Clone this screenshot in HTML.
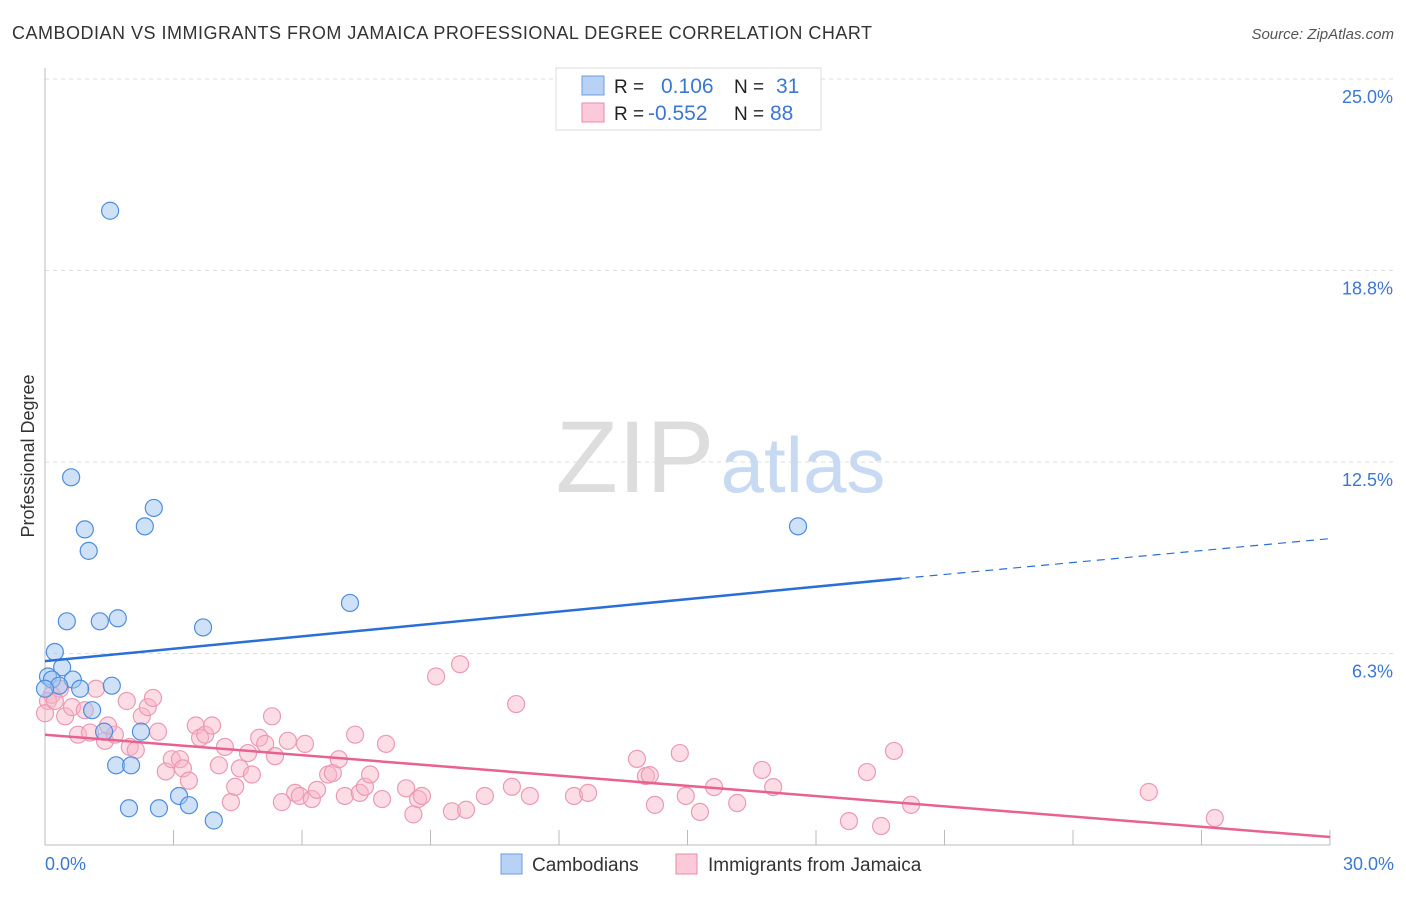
<!DOCTYPE html>
<html><head><meta charset="utf-8"><style>
body{margin:0;background:#fff;font-family:"Liberation Sans",sans-serif;}
svg text{font-family:"Liberation Sans",sans-serif;}
</style></head><body>
<svg id="chart" width="1406" height="892" xmlns="http://www.w3.org/2000/svg">
<text x="12" y="39" font-size="18" fill="#333" textLength="860">CAMBODIAN VS IMMIGRANTS FROM JAMAICA PROFESSIONAL DEGREE CORRELATION CHART</text>
<text x="1394" y="39" font-size="15" fill="#555" text-anchor="end" font-style="italic">Source: ZipAtlas.com</text>
<g id="grid"></g>
<text x="635" y="492" font-size="102" fill="#ddd" font-family="Liberation Serif" text-anchor="middle">ZIP</text>
<text x="803" y="492" font-size="78" fill="#c8daf2" text-anchor="middle">atlas</text>
<line x1="45" y1="68" x2="45" y2="845" stroke="#bbb"/>
<line x1="45" y1="845" x2="1330" y2="845" stroke="#bbb"/>
<text x="34" y="456" font-size="18" fill="#333" text-anchor="middle" transform="rotate(-90 34 456)">Professional Degree</text>
<text x="45" y="870" font-size="18" fill="#3a78d4">0.0%</text>
<text x="1394" y="870" font-size="18" fill="#3a78d4" text-anchor="end">30.0%</text>
<g id="points"></g>
<g id="lines"></g>
<g>
<rect x="556" y="68" width="265" height="62" fill="#fff" stroke="#ddd"/>
<rect x="582" y="76" width="22" height="19" fill="#b8d2f5" stroke="#6c9de0"/>
<rect x="582" y="103" width="22" height="19" fill="#fbc9d8" stroke="#e88aa8"/>
<text x="614" y="93" font-size="19" fill="#222">R =</text>
<text x="661" y="93" font-size="21" fill="#3a78d4">0.106</text>
<text x="734" y="93" font-size="19" fill="#222">N =</text>
<text x="776" y="93" font-size="21" fill="#3a78d4">31</text>
<text x="614" y="120" font-size="19" fill="#222">R =</text>
<text x="648" y="120" font-size="21" fill="#3a78d4">-0.552</text>
<text x="734" y="120" font-size="19" fill="#222">N =</text>
<text x="770" y="120" font-size="21" fill="#3a78d4">88</text>
</g>
<g>
<rect x="501" y="854" width="21" height="20" fill="#b8d2f5" stroke="#6c9de0"/>
<text x="532" y="871" font-size="19" fill="#333">Cambodians</text>
<rect x="676" y="854" width="21" height="20" fill="#fbc9d8" stroke="#e88aa8"/>
<text x="708" y="871" font-size="19" fill="#333">Immigrants from Jamaica</text>
</g>
</svg>
<script>
const yTicks=[25,18.75,12.5,6.25];
const yTickLabels=["25.0%","18.8%","12.5%","6.3%"];
const xTicks=[3,6,9,12,15,18,21,24,27,30];
const blueX=[1.52,0.61,0.93,2.54,2.33,1.02,17.58,7.12,0.51,1.28,1.70,3.69,0.23,0.40,0.07,0.16,0.65,0.33,0.82,1.56,1.10,1.38,2.24,1.66,2.01,1.96,2.66,3.13,3.36,3.94,0.0];
const blueY=[20.7,12.0,10.3,11.0,10.4,9.6,10.4,7.9,7.3,7.3,7.4,7.1,6.3,5.8,5.5,5.4,5.4,5.2,5.1,5.2,4.4,3.7,3.7,2.6,2.6,1.2,1.2,1.6,1.3,0.8,5.1];
const pinkX=[0.16,0.07,0,0.35,0.23,0.47,0.63,0.77,1.05,1.19,0.93,1.40,1.63,1.47,1.91,1.98,2.12,2.26,2.40,2.52,2.64,2.82,2.96,3.15,3.22,3.36,3.52,3.62,3.74,3.90,4.06,4.20,4.34,4.44,4.55,4.74,4.83,5.00,5.14,5.30,5.37,5.53,5.67,5.84,5.95,6.07,6.23,6.35,6.61,6.72,6.86,7.00,7.24,7.35,7.47,7.59,7.87,7.96,8.43,8.60,8.71,8.80,9.13,9.50,9.69,9.83,10.27,10.90,11.00,11.32,12.35,12.68,13.82,14.03,14.12,14.24,14.82,14.96,15.29,15.62,16.16,16.74,17.00,18.77,19.19,19.52,19.82,20.22,25.77,27.31];
const pinkY=[4.9,4.7,4.3,5.1,4.7,4.2,4.5,3.6,3.67,5.1,4.4,3.4,3.6,3.9,4.7,3.2,3.1,4.2,4.5,4.8,3.7,2.4,2.8,2.8,2.5,2.1,3.9,3.5,3.6,3.9,2.6,3.2,1.4,1.9,2.5,3.0,2.3,3.5,3.3,4.2,2.9,1.4,3.4,1.7,1.6,3.3,1.5,1.8,2.3,2.35,2.8,1.6,3.6,1.7,1.9,2.3,1.5,3.3,1.85,1.0,1.5,1.6,5.5,1.1,5.9,1.15,1.6,1.9,4.6,1.6,1.6,1.7,2.81,2.25,2.28,1.31,3.0,1.6,1.08,1.89,1.37,2.45,1.89,0.78,2.38,0.62,3.07,1.31,1.73,0.88];
const blueTrend=[0,6.0,20,8.7,30,10.0];
const pinkTrend=[0,3.6,30,0.26];
const X=v=>45+v/30*1285;
const Y=v=>845-v/6.25*191.5;
const NS="http://www.w3.org/2000/svg";
const grid=document.getElementById('grid');
yTicks.forEach((t,i)=>{
 const l=document.createElementNS(NS,'line');
 l.setAttribute('x1',45);l.setAttribute('x2',1394);l.setAttribute('y1',Y(t));l.setAttribute('y2',Y(t));
 l.setAttribute('stroke','#ddd');l.setAttribute('stroke-dasharray','4,4');
 
 
 grid.appendChild(l);
 const tx=document.createElementNS(NS,'text');
 tx.setAttribute('x',1393);tx.setAttribute('y',Y(t)+24);tx.setAttribute('text-anchor','end');
 tx.setAttribute('font-size','18');tx.setAttribute('fill','#3a78d4');tx.textContent=yTickLabels[i];
 
 
 grid.appendChild(tx);
});
xTicks.forEach(t=>{
 const l=document.createElementNS(NS,'line');
 l.setAttribute('x1',X(t));l.setAttribute('x2',X(t));l.setAttribute('y1',830);l.setAttribute('y2',845);
 l.setAttribute('stroke','#bbb');
 
 
 grid.appendChild(l);
});
const pts=document.getElementById('points');
function dot(x,y,fill,stroke,name){
 const c=document.createElementNS(NS,'circle');
 c.setAttribute('cx',X(x));c.setAttribute('cy',Y(y));c.setAttribute('r',8.5);
 c.setAttribute('fill',fill);c.setAttribute('stroke',stroke);c.setAttribute('stroke-width','1.2');
 
 
 pts.appendChild(c);
}
pinkX.forEach((x,i)=>dot(x,pinkY[i],'rgba(248,180,200,0.45)','#ec9ab4','jamaica-point'));
blueX.forEach((x,i)=>dot(x,blueY[i],'rgba(160,196,240,0.5)','#4f8ede','cambodian-point'));
const lines=document.getElementById('lines');
function seg(x1,y1,x2,y2,col,dash,name){
 const l=document.createElementNS(NS,'line');
 l.setAttribute('x1',X(x1));l.setAttribute('y1',Y(y1));l.setAttribute('x2',X(x2));l.setAttribute('y2',Y(y2));
 l.setAttribute('stroke',col);l.setAttribute('stroke-width',dash?1.2:2.5);
 if(dash)l.setAttribute('stroke-dasharray','8,6');
 
 
 lines.appendChild(l);
}
seg(blueTrend[0],blueTrend[1],blueTrend[2],blueTrend[3],'#2a6fd6',false,'cambodian-trend-line');
seg(blueTrend[2],blueTrend[3],blueTrend[4],blueTrend[5],'#2a6fd6',true,'cambodian-trend-extension');
seg(pinkTrend[0],pinkTrend[1],pinkTrend[2],pinkTrend[3],'#e8628f',false,'jamaica-trend-line');
</script>
</body></html>
